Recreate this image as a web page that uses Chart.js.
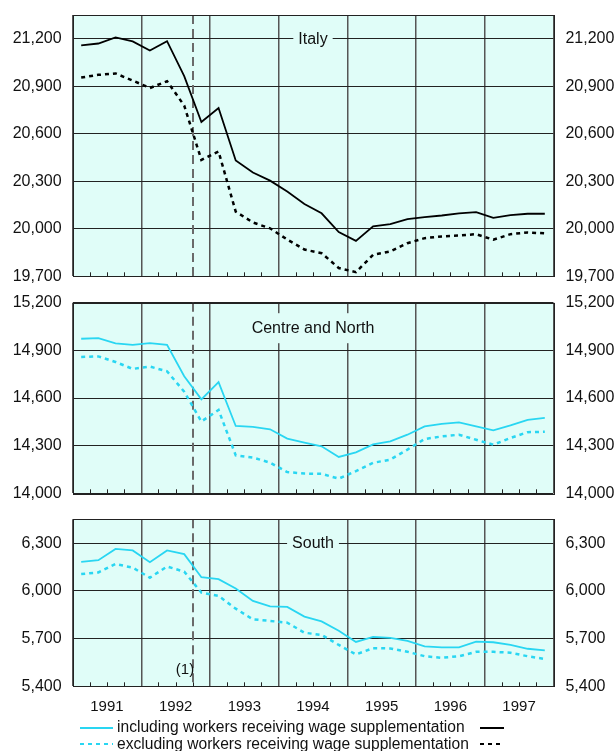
<!DOCTYPE html>
<html>
<head>
<meta charset="utf-8">
<script src="https://cdn.jsdelivr.net/npm/chart.js@4.4.0/dist/chart.umd.min.js"></script>
<style>
  body { margin: 0; background: #fff; width: 616px; height: 751px; overflow: hidden; position: relative;
         font-family: "Liberation Sans", Arial, sans-serif; }
  canvas { position: absolute; left: 0; }
  .txt { position: absolute; left: 117px; font-size: 15.6px; line-height: 18px; color: #111; white-space: nowrap; }
  .ln { position: absolute; height: 2px; }
</style>
</head>
<body>
<canvas id="italy" width="616" height="296" style="top:0"></canvas>
<canvas id="centre" width="616" height="220" style="top:290px"></canvas>
<canvas id="south" width="616" height="251" style="top:500px"></canvas>

<div class="ln" style="left:80px;top:727px;width:33px;background:#29d6f2"></div>
<div class="txt" style="top:718px">including workers receiving wage supplementation</div>
<div class="ln" style="left:480px;top:727px;width:24px;background:#000"></div>
<div class="ln" style="left:80px;top:743px;width:33px;background:repeating-linear-gradient(90deg,#29d6f2 0 4px,transparent 4px 8px)"></div>
<div class="txt" style="top:735px">excluding workers receiving wage supplementation</div>
<div class="ln" style="left:480px;top:743px;width:24px;background:repeating-linear-gradient(90deg,#000 0 4px,transparent 4px 8px)"></div>

<script>
// quarterly data, 1991 Q1 - 1997 Q4 (thousands of persons)
const years = ['1991', '1992', '1993', '1994', '1995', '1996', '1997'];
const breakQuarter = 7; // dashed line between 1992 Q3 and Q4

const italyTicks = [19700, 20000, 20300, 20600, 20900, 21200];
const centreTicks = [14000, 14300, 14600, 14900, 15200];
const southTicks = [5400, 5700, 6000, 6300];

const italyIncl = [21158, 21170, 21208, 21183, 21126, 21185, 20964, 20674, 20763, 20431, 20355, 20304, 20235, 20157,
                   20098, 19979, 19924, 20015, 20029, 20061, 20074, 20084, 20097, 20105, 20069, 20086, 20095, 20095];
const italyExcl = [20955, 20972, 20981, 20936, 20889, 20932, 20778, 20435, 20488, 20108, 20040, 20003, 19932, 19869,
                   19846, 19752, 19726, 19836, 19857, 19909, 19941, 19952, 19958, 19966, 19931, 19966, 19977, 19971];
const centreIncl = [14973, 14977, 14944, 14935, 14946, 14935, 14737, 14592, 14700, 14424, 14418, 14403, 14344, 14319,
                    14296, 14229, 14258, 14308, 14327, 14369, 14421, 14437, 14446, 14421, 14396, 14427, 14462, 14475];
const centreExcl = [14858, 14862, 14827, 14783, 14798, 14768, 14640, 14452, 14525, 14239, 14225, 14193, 14134, 14124,
                    14123, 14092, 14140, 14192, 14212, 14275, 14342, 14358, 14369, 14337, 14306, 14348, 14385, 14387];
const southIncl = [6182, 6193, 6264, 6254, 6180, 6254, 6231, 6086, 6074, 6015, 5937, 5903, 5899, 5838,
                   5808, 5749, 5679, 5711, 5704, 5685, 5651, 5645, 5645, 5681, 5677, 5660, 5636, 5626];
const southExcl = [6106, 6116, 6169, 6146, 6083, 6153, 6121, 5989, 5968, 5888, 5821, 5811, 5800, 5737,
                   5723, 5660, 5600, 5640, 5638, 5617, 5589, 5579, 5589, 5617, 5617, 5611, 5589, 5572];

const nQuarters = years.length * 4;
const FONT = '"Liberation Sans", Arial, sans-serif';
const BG = '#e0fdf8';
const CYAN = '#29d6f2';

const panelPlugin = {
    id: 'panel',
    beforeDraw(chart) {
        const { ctx, chartArea: a } = chart;
        ctx.save();
        ctx.fillStyle = BG;
        ctx.fillRect(a.left, a.top, a.right - a.left, a.bottom - a.top);
        ctx.restore();
    },
    beforeDatasetsDraw(chart, args, opts) {
        const { ctx, chartArea: a } = chart;
        const x = chart.scales.x;
        ctx.save();

        // small quarter ticks inside the bottom edge
        ctx.strokeStyle = '#222';
        ctx.lineWidth = 1;
        ctx.beginPath();
        for (let q = 1; q < nQuarters; q++) {
            if (q % 4 === 0) continue;
            const px = Math.round(x.getPixelForValue(q)) + 0.5;
            ctx.moveTo(px, a.bottom);
            ctx.lineTo(px, a.bottom - 4);
        }
        ctx.stroke();

        // dashed break line
        const bx = Math.round(x.getPixelForValue(breakQuarter));
        ctx.strokeStyle = '#6a6a6a';
        ctx.lineWidth = 2;
        ctx.setLineDash([9, 5]);
        ctx.beginPath();
        ctx.moveTo(bx, a.top);
        ctx.lineTo(bx, a.bottom);
        ctx.stroke();
        ctx.setLineDash([]);

        // panel title on a background box
        ctx.font = '16px ' + FONT;
        ctx.textAlign = 'center';
        ctx.textBaseline = 'middle';
        const w = ctx.measureText(opts.title).width;
        const cx = (a.left + a.right) / 2;
        const cy = a.top + opts.titleOffset;
        ctx.fillStyle = BG;
        ctx.fillRect(cx - w / 2 - 5, cy - 15, w + 10, 30);
        ctx.fillStyle = '#111';
        ctx.fillText(opts.title, cx, cy);

        if (opts.note) {
            ctx.font = '15px ' + FONT;
            ctx.fillText(opts.note, bx - 8, a.bottom - 16);
        }
        ctx.restore();
    },
    afterDraw(chart) {
        const { ctx, chartArea: a } = chart;
        ctx.save();
        ctx.strokeStyle = '#222';
        ctx.lineWidth = 1;
        ctx.strokeRect(Math.round(a.left) + 0.5, Math.round(a.top) + 0.5,
                       Math.round(a.right - a.left), Math.round(a.bottom - a.top));
        ctx.restore();
    }
};

function toPoints(arr) {
    return arr.map((v, i) => ({ x: i + 0.5, y: v }));
}

function yAxis(min, max, tickValues, right) {
    return {
        type: 'linear',
        position: right ? 'right' : 'left',
        min: min,
        max: max,
        border: { display: false },
        grid: right ? { display: false, drawTicks: false } : { color: '#222', lineWidth: 1, drawTicks: false },
        afterBuildTicks: s => { s.ticks = tickValues.map(v => ({ value: v })); },
        afterFit: s => {
            s.width = right ? 62.6 : 72.6;
            s.paddingTop = 0;
            s.paddingBottom = 0;
        },
        ticks: {
            padding: right ? 12 : 11,
            color: '#111',
            font: { family: FONT, size: 16 },
            callback: v => v.toLocaleString('en-US')
        }
    };
}

function makePanel(id, incl, excl, color, min, max, tickValues, opts) {
    const ctx = document.getElementById(id).getContext('2d');
    return new Chart(ctx, {
        type: 'line',
        data: {
            datasets: [{
                data: toPoints(incl),
                borderColor: color,
                borderWidth: 1.8,
                pointRadius: 0,
                tension: 0,
                yAxisID: 'y'
            }, {
                data: toPoints(excl),
                borderColor: color,
                borderWidth: 2.5,
                borderDash: [4, 4],
                pointRadius: 0,
                tension: 0,
                yAxisID: 'y'
            }]
        },
        options: {
            responsive: false,
            animation: false,
            layout: { padding: opts.padding },
            scales: {
                x: {
                    type: 'linear',
                    min: 0,
                    max: nQuarters,
                    border: { display: false },
                    grid: {
                        drawTicks: false,
                        color: c => (c.tick && c.tick.value % 4 === 0) ? '#555' : 'rgba(0,0,0,0)',
                        lineWidth: 1.5
                    },
                    afterFit: s => { s.height = opts.xHeight; },
                    ticks: {
                        display: opts.showYears,
                        stepSize: 1,
                        autoSkip: false,
                        maxRotation: 0,
                        padding: 12,
                        color: '#111',
                        font: { family: FONT, size: 15 },
                        callback: v => (v % 4 === 2) ? years[(v - 2) / 4] : ''
                    }
                },
                y: yAxis(min, max, tickValues, false),
                y2: yAxis(min, max, tickValues, true)
            },
            plugins: {
                legend: { display: false },
                tooltip: { enabled: false },
                panel: { title: opts.title, titleOffset: opts.titleOffset, note: opts.note }
            }
        },
        plugins: [panelPlugin]
    });
}

makePanel('italy', italyIncl, italyExcl, '#000', 19700, 21350, italyTicks, {
    title: 'Italy', titleOffset: 25, showYears: false, xHeight: 0,
    padding: { top: 15, bottom: 19.7, left: 0, right: 0 }
});
makePanel('centre', centreIncl, centreExcl, CYAN, 14000, 15200, centreTicks, {
    title: 'Centre and North', titleOffset: 25.5, showYears: false, xHeight: 0,
    padding: { top: 12.7, bottom: 16.7, left: 0, right: 0 }
});
makePanel('south', southIncl, southExcl, CYAN, 5400, 6450, southTicks, {
    title: 'South', titleOffset: 24, showYears: true, xHeight: 40, note: '(1)',
    padding: { top: 19.3, bottom: 24.7, left: 0, right: 0 }
});
</script>
</body>
</html>
